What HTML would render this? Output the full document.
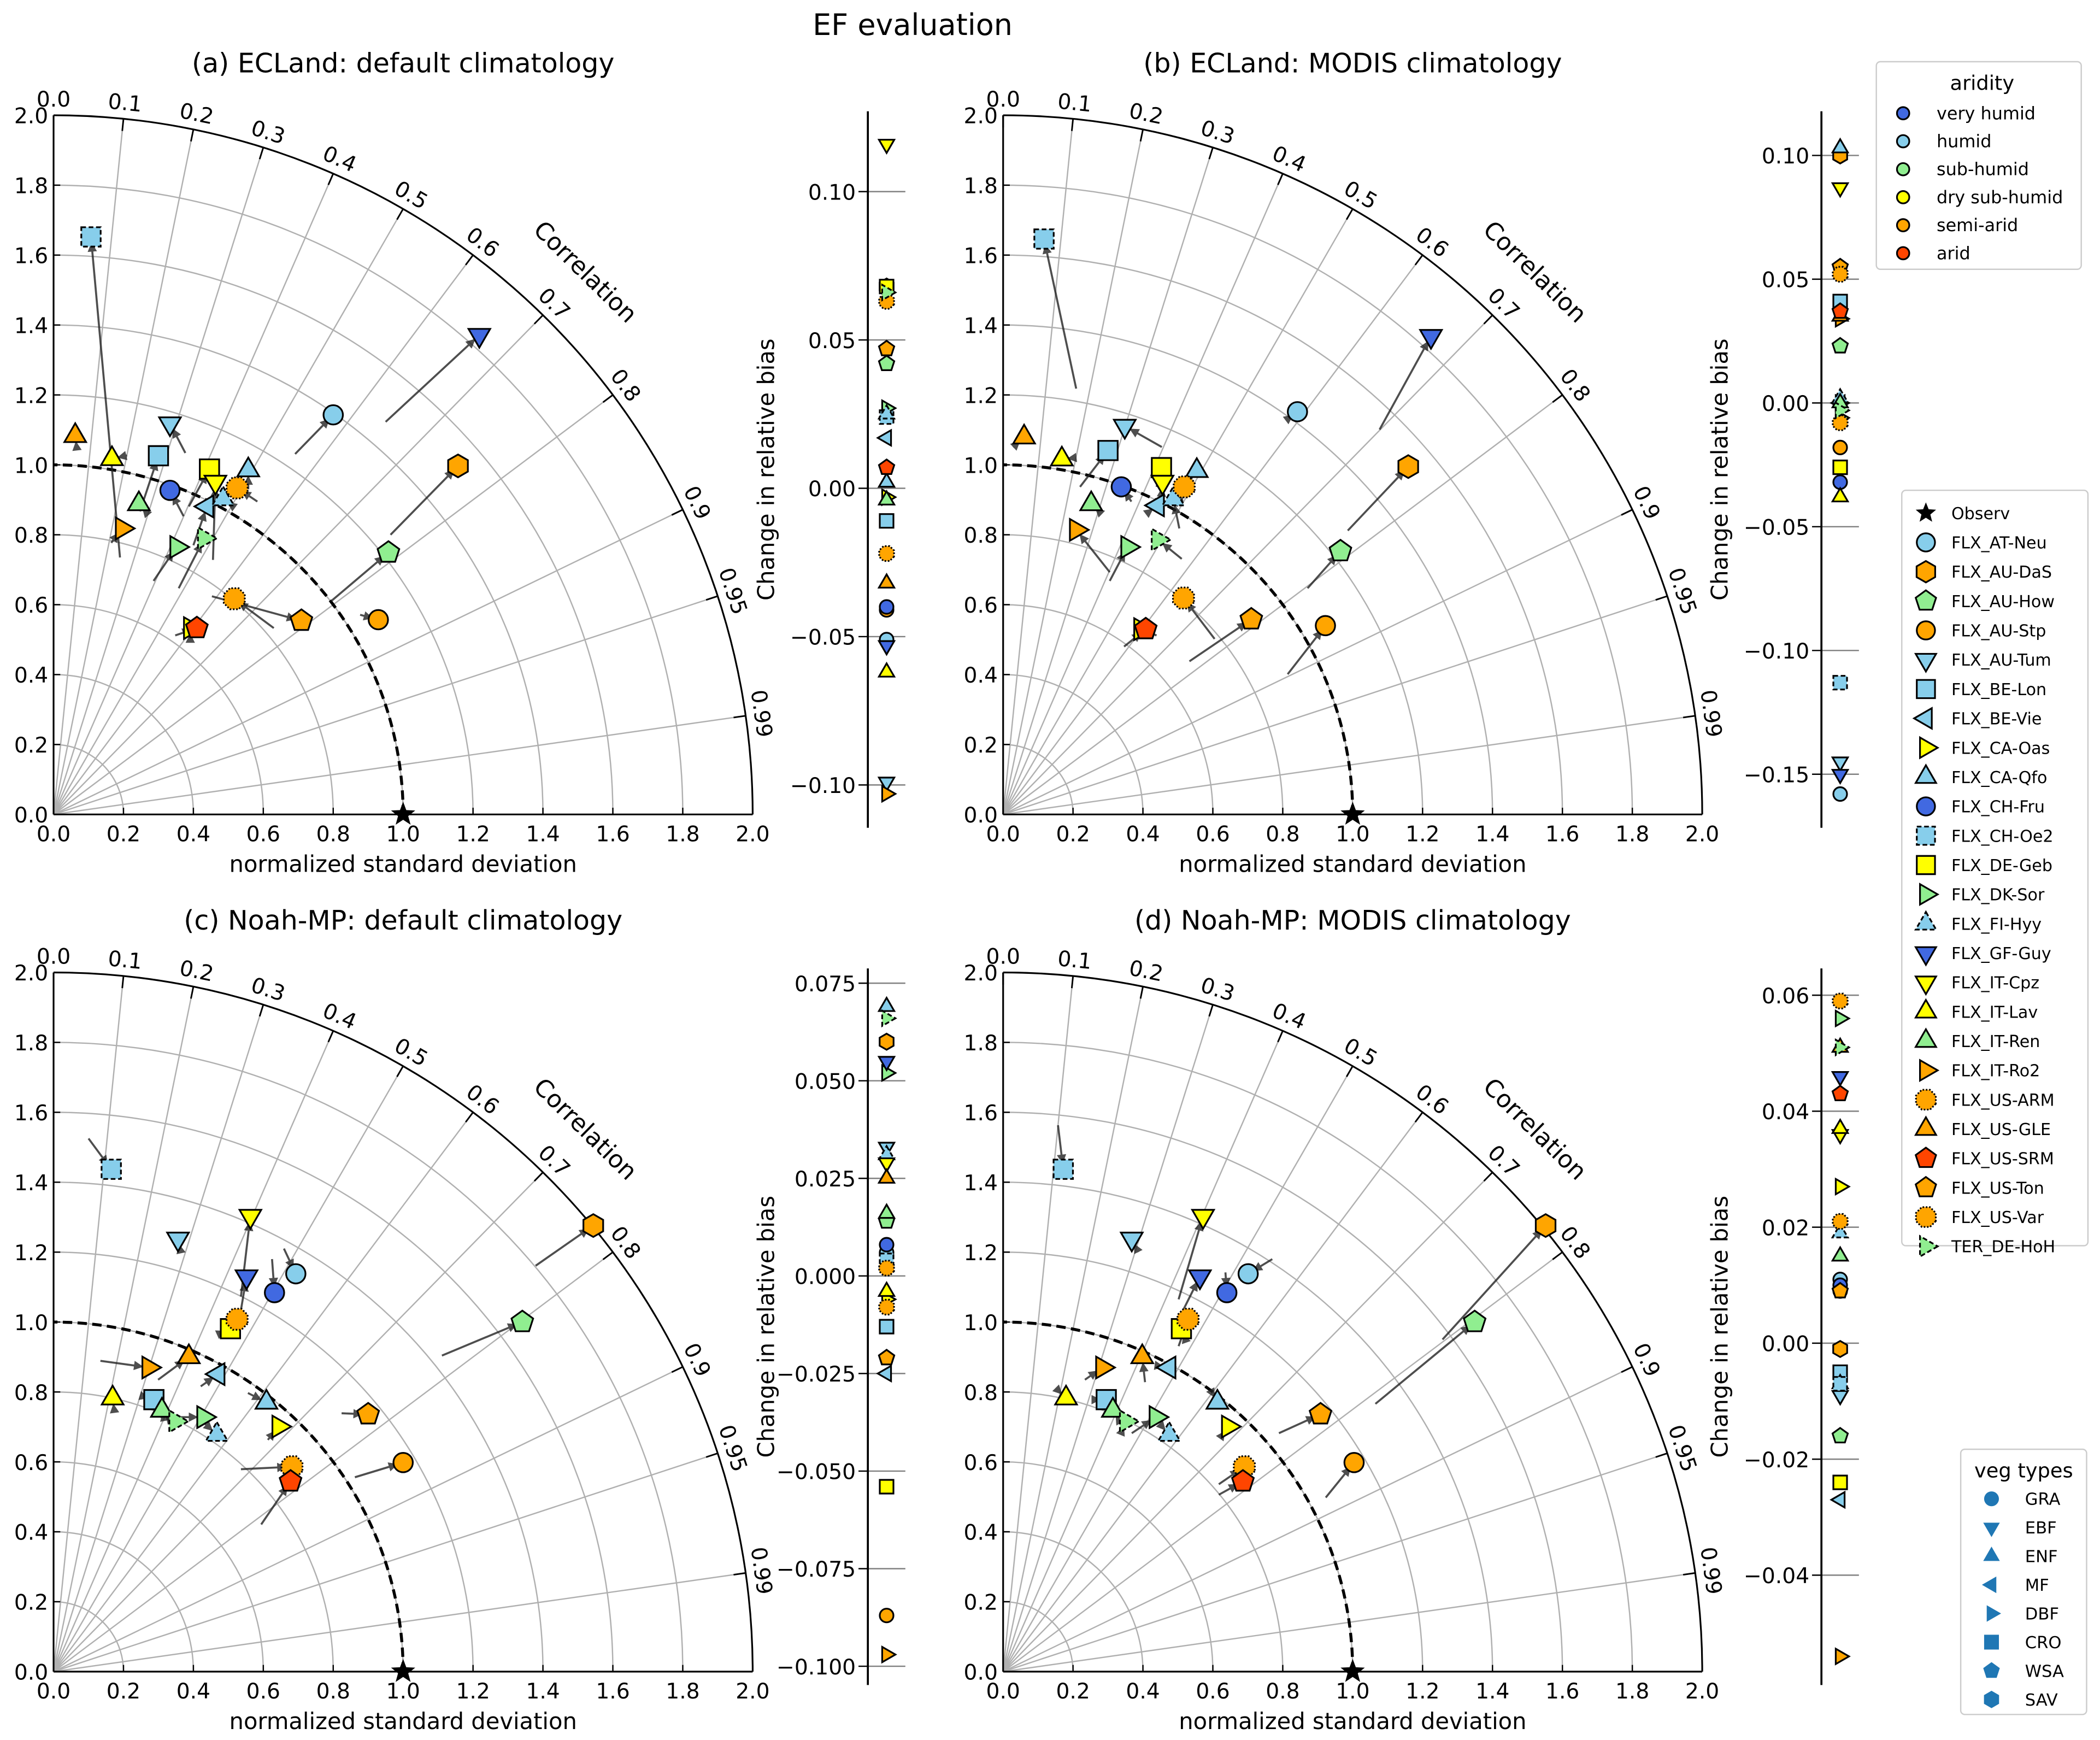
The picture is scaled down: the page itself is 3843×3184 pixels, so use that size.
<!DOCTYPE html>
<html><head><meta charset="utf-8"><style>
html,body{margin:0;padding:0;background:#fff;overflow:hidden;}
svg{display:block;font-family:"DejaVu Sans","Liberation Sans",sans-serif;}
</style></head><body>
<svg id="fig" width="3843" height="3184" viewBox="0 0 1568 1299" xmlns="http://www.w3.org/2000/svg">
<rect width="1568" height="1299" fill="#fff"/>
<text x="756" y="26" font-size="22" text-anchor="end">EF evaluation</text>
<g id="root"></g>
</svg>
<script>
// ---- data ----
const stations = ["FLX_AT-Neu","FLX_AU-DaS","FLX_AU-How","FLX_AU-Stp","FLX_AU-Tum","FLX_BE-Lon","FLX_BE-Vie","FLX_CA-Oas","FLX_CA-Qfo","FLX_CH-Fru","FLX_CH-Oe2","FLX_DE-Geb","FLX_DK-Sor","FLX_FI-Hyy","FLX_GF-Guy","FLX_IT-Cpz","FLX_IT-Lav","FLX_IT-Ren","FLX_IT-Ro2","FLX_US-ARM","FLX_US-GLE","FLX_US-SRM","FLX_US-Ton","FLX_US-Var","TER_DE-HoH"];
const shapes = ["o","h","p","o","v","s","<",">","^","o","s","s",">","^","v","v","^","^",">","8","^","p","p","8",">"];
const aridity = ["humid","semi-arid","sub-humid","semi-arid","humid","humid","humid","dry sub-humid","humid","very humid","humid","dry sub-humid","sub-humid","humid","very humid","dry sub-humid","dry sub-humid","sub-humid","semi-arid","semi-arid","semi-arid","arid","semi-arid","semi-arid","sub-humid"];
const edgeStyle = ["","","","","","","","","","","dash","","","dash","","","","","","dot","","","","dot","dash"];
const aridityNames = ["very humid","humid","sub-humid","dry sub-humid","semi-arid","arid"];
const aridityColors = ["#4169e1","#87ceeb","#90ee90","#ffff00","#ffa500","#ff4500"];
const vegNames = ["GRA","EBF","ENF","MF","DBF","CRO","WSA","SAV"];
const vegShapes = ["o","v","^","<",">","s","p","h"];
const corrTicks = [0,0.1,0.2,0.3,0.4,0.5,0.6,0.7,0.8,0.9,0.95,0.99];
const stdTicks = [0,0.2,0.4,0.6,0.8,1.0,1.2,1.4,1.6,1.8,2.0];

// panel (a)
const aX = [0.8,1.157,0.958,0.929,0.333,0.30,0.439,0.391,0.557,0.333,0.107,0.446,0.352,0.485,1.218,0.463,0.167,0.244,0.196,0.517,0.062,0.41,0.709,0.525,0.431];
const aY = [1.143,0.997,0.749,0.557,1.118,1.026,0.881,0.533,0.985,0.927,1.652,0.988,0.765,0.902,1.371,0.951,1.017,0.888,0.818,0.617,1.083,0.533,0.554,0.934,0.79];
const aTX = [0.691,0.964,0.794,0.877,0.377,0.247,0.4,0.391,0.557,0.372,0.19,0.387,0.286,0.514,0.95,0.456,0.21,0.268,0.165,0.63,0.066,0.348,0.453,0.583,0.358];
const aTY = [1.031,0.8,0.61,0.571,1.034,0.867,0.77,0.505,0.93,0.853,0.735,0.881,0.668,0.881,1.123,0.728,1.027,0.86,0.777,0.533,1.05,0.512,0.624,0.895,0.647];
const aBias = [-0.051,0.068,0.042,-0.041,-0.099,-0.011,0.017,-0.003,0.002,-0.040,0.024,0.068,0.027,0.025,-0.053,0.116,-0.062,-0.004,-0.103,-0.022,-0.032,0.007,0.047,0.063,0.066];
const aBiasTicks = [0.10,0.05,0.00,-0.05,-0.10];
const aBiasLabels = ["0.10","0.05","0.00","\u22120.05","\u22120.10"];
// panel (b)
const bX = [0.842,1.159,0.965,0.922,0.348,0.3,0.442,0.393,0.554,0.338,0.117,0.453,0.356,0.487,1.224,0.456,0.168,0.252,0.209,0.516,0.06,0.408,0.71,0.518,0.443];
const bY = [1.152,0.995,0.753,0.54,1.111,1.041,0.884,0.53,0.983,0.937,1.646,0.992,0.765,0.902,1.368,0.951,1.016,0.888,0.814,0.619,1.079,0.53,0.558,0.937,0.786];
const bTX = [0.814,0.986,0.871,0.814,0.454,0.22,0.41,0.439,0.528,0.367,0.209,0.439,0.305,0.504,1.077,0.453,0.202,0.281,0.305,0.605,0.029,0.346,0.533,0.497,0.511];
const bTY = [1.131,0.812,0.647,0.401,1.051,0.937,0.86,0.512,0.951,0.895,1.218,0.937,0.668,0.818,1.101,0.909,1.02,0.86,0.693,0.502,1.05,0.48,0.438,0.881,0.731];
const bBias = [-0.158,0.100,0.023,-0.018,-0.145,0.041,0.0,0.0,0.103,-0.032,-0.113,-0.026,-0.006,0.002,-0.150,0.087,-0.038,0.0,0.034,-0.008,0.035,0.037,0.055,0.052,-0.003];
const bBiasTicks = [0.10,0.05,0.00,-0.05,-0.10,-0.15];
const bBiasLabels = ["0.10","0.05","0.00","\u22120.05","\u22120.10","\u22120.15"];
// panel (c)
const cX = [0.693,1.544,1.341,1.0,0.356,0.287,0.471,0.644,0.609,0.632,0.165,0.506,0.429,0.467,0.552,0.563,0.169,0.31,0.272,0.682,0.387,0.678,0.9,0.525,0.349];
const cY = [1.138,1.276,1.0,0.598,1.238,0.778,0.851,0.701,0.77,1.084,1.437,0.981,0.728,0.678,1.13,1.303,0.782,0.747,0.87,0.586,0.9,0.544,0.736,1.008,0.716];
const cTX = [0.659,1.379,1.111,0.862,0.364,0.249,0.421,0.613,0.556,0.625,0.1,0.479,0.364,0.429,0.536,0.536,0.172,0.326,0.134,0.536,0.299,0.594,0.824,0.479,0.307];
const cTY = [1.21,1.161,0.904,0.556,1.2,0.789,0.816,0.663,0.797,1.18,1.525,0.969,0.728,0.713,1.034,1.073,0.759,0.728,0.889,0.579,0.835,0.421,0.739,0.969,0.728];
const cBias = [0.006,0.060,0.014,-0.087,0.033,-0.013,-0.025,-0.006,0.069,0.008,0.004,-0.054,0.052,0.031,0.055,0.029,-0.004,0.016,-0.097,-0.008,0.025,-0.021,-0.021,0.002,0.066];
const cBiasTicks = [0.075,0.050,0.025,0.000,-0.025,-0.050,-0.075,-0.100];
const cBiasLabels = ["0.075","0.050","0.025","0.000","\u22120.025","\u22120.050","\u22120.075","\u22120.100"];
// panel (d)
const dX = [0.701,1.552,1.349,1.004,0.368,0.295,0.475,0.644,0.613,0.64,0.172,0.51,0.437,0.475,0.563,0.572,0.18,0.314,0.284,0.69,0.398,0.686,0.908,0.529,0.352];
const dY = [1.138,1.276,1.0,0.598,1.238,0.778,0.87,0.701,0.77,1.084,1.437,0.981,0.728,0.678,1.13,1.303,0.782,0.747,0.87,0.586,0.9,0.544,0.736,1.008,0.716];
const dTX = [0.77,1.257,1.065,0.923,0.387,0.272,0.448,0.625,0.598,0.636,0.157,0.521,0.368,0.448,0.502,0.502,0.165,0.33,0.234,0.617,0.406,0.617,0.789,0.502,0.341];
const dTY = [1.18,0.95,0.766,0.498,1.2,0.778,0.874,0.674,0.797,1.142,1.563,0.95,0.682,0.709,1.008,1.065,0.797,0.72,0.835,0.536,0.828,0.506,0.682,0.931,0.69];
const dBias = [0.011,-0.001,-0.016,0.009,-0.009,-0.005,-0.027,0.027,-0.007,0.010,-0.007,-0.024,0.056,0.019,0.046,0.036,0.037,0.015,-0.054,0.059,0.051,0.043,0.009,0.021,0.051];
const dBiasTicks = [0.06,0.04,0.02,0.00,-0.02,-0.04];
const dBiasLabels = ["0.06","0.04","0.02","0.00","\u22120.02","\u22120.04"];

// ---- drawing ----
const NS = "http://www.w3.org/2000/svg";
const root = document.getElementById("root");
function mk(tag, attrs, parent){
  const e = document.createElementNS(NS, tag);
  for (const k in attrs) e.setAttribute(k, attrs[k]);
  (parent||root).appendChild(e);
  return e;
}
function colorOf(i){ return aridityColors[aridityNames.indexOf(aridity[i])]; }
function shapePath(sh, cx, cy, r){
  const pts = [];
  function poly(n, rot){ for(let k=0;k<n;k++){const a=rot+k*2*Math.PI/n; pts.push([cx+r*Math.cos(a), cy+r*Math.sin(a)]);} }
  if (sh==="s"){ const q=r*0.85; return `M${cx-q},${cy-q}H${cx+q}V${cy+q}H${cx-q}Z`; }
  if (sh==="^") poly(3,-Math.PI/2);
  else if (sh==="v") poly(3,Math.PI/2);
  else if (sh==="<") poly(3,Math.PI);
  else if (sh===">") poly(3,0);
  else if (sh==="p") poly(5,-Math.PI/2);
  else if (sh==="h") poly(6,-Math.PI/2);
  else if (sh==="8") poly(8,Math.PI/8);
  return "M"+pts.map(p=>p[0].toFixed(2)+","+p[1].toFixed(2)).join("L")+"Z";
}
function marker(g, sh, cx, cy, r, fill, style){
  let e;
  if (sh==="o") e = mk("circle",{cx:cx,cy:cy,r:r*0.85},g);
  else e = mk("path",{d:shapePath(sh,cx,cy,sh==="^"||sh==="v"||sh==="<"||sh===">"?r*1.1:r)},g);
  e.setAttribute("fill",fill); e.setAttribute("stroke","#000"); e.setAttribute("stroke-width","1.3");
  if (style==="dash") e.setAttribute("stroke-dasharray","3.5,2");
  if (style==="dot") e.setAttribute("stroke-dasharray","1.2,1.2");
  return e;
}

const panels = [
 {id:"a", title:"(a) ECLand: default climatology", ox:40, oy:608, X:aX,Y:aY,TX:aTX,TY:aTY,B:aBias,bt:aBiasTicks,bl:aBiasLabels, sx:648, y0:83, y1:618, tA:0.10, pA:143, tB:-0.10, pB:586},
 {id:"b", title:"(b) ECLand: MODIS climatology", ox:749, oy:608, X:bX,Y:bY,TX:bTX,TY:bTY,B:bBias,bt:bBiasTicks,bl:bBiasLabels, sx:1360, y0:83, y1:618, tA:0.10, pA:116, tB:-0.15, pB:578},
 {id:"c", title:"(c) Noah-MP: default climatology", ox:40, oy:1248, X:cX,Y:cY,TX:cTX,TY:cTY,B:cBias,bt:cBiasTicks,bl:cBiasLabels, sx:648, y0:723, y1:1258, tA:0.075, pA:734, tB:-0.1, pB:1244},
 {id:"d", title:"(d) Noah-MP: MODIS climatology", ox:749, oy:1248, X:dX,Y:dY,TX:dTX,TY:dTY,B:dBias,bt:dBiasTicks,bl:dBiasLabels, sx:1360, y0:723, y1:1258, tA:0.06, pA:743, tB:-0.04, pB:1176}
];
const S = 261; // px per std unit

panels.forEach(P=>{
  const g = mk("g",{});
  
  
  const px = v=>P.ox+v*S, py = v=>P.oy-v*S;
  const t = mk("text",{x:P.ox+261,y:P.oy-554,"font-size":"20","text-anchor":"middle"},g); t.textContent=P.title;
   
  stdTicks.slice(1,10).forEach(v=>{
    mk("path",{d:`M${px(v)},${P.oy}A${v*S},${v*S} 0 0 0 ${P.ox},${py(v)}`,fill:"none",stroke:"#b0b0b0","stroke-width":"1"},g);
  });
  corrTicks.forEach(c=>{
    const th=Math.acos(c);
    const ex=P.ox+2*S*Math.cos(th), ey=P.oy-2*S*Math.sin(th);
    if(c>0) mk("line",{x1:P.ox,y1:P.oy,x2:ex,y2:ey,stroke:"#b0b0b0","stroke-width":"1"},g);
    mk("line",{x1:ex,y1:ey,x2:P.ox+1.965*S*Math.cos(th),y2:P.oy-1.965*S*Math.sin(th),stroke:"#000","stroke-width":"1.2"},g);
    const lx=P.ox+2.025*S*Math.cos(th), ly=P.oy-2.025*S*Math.sin(th);
    const rot=90-th*180/Math.PI;
    const tx=mk("text",{x:0,y:0,"font-size":"16","text-anchor":"middle",transform:`translate(${lx},${ly}) rotate(${rot})`},g);
    tx.textContent=(c===0?"0.0":String(c));
     
  });
  const cth=Math.acos(0.70);
  const cl=mk("text",{"font-size":"18","text-anchor":"middle",transform:`translate(${P.ox+2.15*S*Math.cos(cth)},${P.oy-2.15*S*Math.sin(cth)}) rotate(${90-cth*180/Math.PI})`},g);
  cl.textContent="Correlation";  
  mk("path",{d:`M${px(2)},${P.oy}A${2*S},${2*S} 0 0 0 ${P.ox},${py(2)}`,fill:"none",stroke:"#000","stroke-width":"1.3"},g);
  mk("line",{x1:P.ox,y1:P.oy,x2:px(2),y2:P.oy,stroke:"#000","stroke-width":"1.3"},g);
  mk("line",{x1:P.ox,y1:P.oy,x2:P.ox,y2:py(2),stroke:"#000","stroke-width":"1.3"},g);
  stdTicks.forEach(v=>{
    mk("line",{x1:px(v),y1:P.oy,x2:px(v),y2:P.oy-5,stroke:"#000","stroke-width":"1"},g);
    mk("line",{x1:P.ox,y1:py(v),x2:P.ox+5,y2:py(v),stroke:"#000","stroke-width":"1"},g);
    const a=mk("text",{x:px(v),y:P.oy+20,"font-size":"16","text-anchor":"middle"},g); a.textContent=v.toFixed(1);
     
    const b=mk("text",{x:P.ox-4,y:py(v)+6,"font-size":"16","text-anchor":"end"},g); b.textContent=v.toFixed(1);
     
  });
  const xl=mk("text",{x:px(1),y:P.oy+43,"font-size":"17","text-anchor":"middle"},g); xl.textContent="normalized standard deviation";
   
  mk("path",{d:`M${px(1)},${P.oy}A${S},${S} 0 0 0 ${P.ox},${py(1)}`,fill:"none",stroke:"#000","stroke-width":"2.2","stroke-dasharray":"7,4"},g);
  P.X.forEach((v,i)=>{
    const x1=px(P.TX[i]), y1=py(P.TY[i]), x2=px(v), y2=py(P.Y[i]);
    const dx=x2-x1, dy=y2-y1, L=Math.hypot(dx,dy);
    if(L<2) return;
    const ux=dx/L, uy=dy/L;
    const ex=x2-ux*4, ey=y2-uy*4;
    const ar=mk("g",{opacity:"0.8"},g);
     
    mk("line",{x1:x1,y1:y1,x2:ex,y2:ey,stroke:"#222","stroke-width":"1.5"},ar);
    const hx=ex-ux*7, hy=ey-uy*7;
    mk("path",{d:`M${ex},${ey}L${hx-uy*3.5},${hy+ux*3.5}L${hx+uy*3.5},${hy-ux*3.5}Z`,fill:"#222"},ar);
  });
  P.X.forEach((v,i)=>{
    const m=marker(g,shapes[i],px(v),py(P.Y[i]),8.5,colorOf(i),edgeStyle[i]);
    
    
  });
  const st=[];for(let k=0;k<10;k++){const r=k%2?4:9.5,a=-Math.PI/2+k*Math.PI/5;st.push((px(1)+r*Math.cos(a)).toFixed(2)+","+(P.oy+r*Math.sin(a)).toFixed(2));}
  const star=mk("polygon",{points:st.join(" "),fill:"#000"},g);
   

  const sg=mk("g",{});
  
  
  const by = v=>P.pA+(v-P.tA)*(P.pB-P.pA)/(P.tB-P.tA);
  P.bt.forEach((v,k)=>{
    mk("line",{x1:P.sx,y1:by(v),x2:P.sx+28,y2:by(v),stroke:"#808080","stroke-width":"1"},sg);
    mk("line",{x1:P.sx-7,y1:by(v),x2:P.sx,y2:by(v),stroke:"#000","stroke-width":"1"},sg);
    const tl=mk("text",{x:P.sx-9,y:by(v)+6,"font-size":"16","text-anchor":"end"},sg); tl.textContent=P.bl[k];
     
  });
  mk("line",{x1:P.sx,y1:P.y0,x2:P.sx,y2:P.y1,stroke:"#000","stroke-width":"1.5"},sg);
  const yl=mk("text",{"font-size":"17","text-anchor":"middle",transform:`translate(${P.sx-70},${(P.y0+P.y1)/2}) rotate(-90)`},sg);
  yl.textContent="Change in relative bias";  
  P.B.forEach((v,i)=>{
    const m=marker(sg,shapes[i],P.sx+14,by(v),6,colorOf(i),edgeStyle[i]);
    
    
  });
});

(function(){
  const g=mk("g",{});
   
  mk("rect",{x:1401,y:46,width:153,height:155,rx:3,fill:"#fff",stroke:"#cccccc","stroke-width":"1"},g);
  const t=mk("text",{x:1480,y:67,"font-size":"15","text-anchor":"middle"},g); t.textContent="aridity";
  aridityNames.forEach((n,k)=>{
    const y=84.5+k*20.9;
    mk("circle",{cx:1421,cy:y,r:4.6,fill:aridityColors[k],stroke:"#000","stroke-width":"1.3"},g);
    const tx=mk("text",{x:1446,y:y+4.5,"font-size":"13"},g); tx.textContent=n;
     
  });
})();
(function(){
  const g=mk("g",{});
   
  mk("rect",{x:1420,y:366,width:139,height:564,rx:3,fill:"#fff",stroke:"#cccccc","stroke-width":"1"},g);
  const names=["Observ"].concat(stations);
  names.forEach((n,k)=>{
    const y=383+k*21.9;
    if(k===0){
      const st=[];for(let q=0;q<10;q++){const r=q%2?3.5:8,a=-Math.PI/2+q*Math.PI/5;st.push((1438+r*Math.cos(a)).toFixed(2)+","+(y+r*Math.sin(a)).toFixed(2));}
      mk("polygon",{points:st.join(" "),fill:"#000"},g);
    } else {
      const i=k-1;
      marker(g,shapes[i],1438,y,8,colorOf(i),edgeStyle[i]);
    }
    const tx=mk("text",{x:1457,y:y+4.5,"font-size":"12.3"},g); tx.textContent=n;
     
  });
})();
(function(){
  const g=mk("g",{});
   
  mk("rect",{x:1464,y:1082,width:94,height:198,rx:3,fill:"#fff",stroke:"#cccccc","stroke-width":"1"},g);
  const t=mk("text",{x:1511,y:1103,"font-size":"15","text-anchor":"middle"},g); t.textContent="veg types";
  vegNames.forEach((n,k)=>{
    const y=1119+k*21.4;
    const m=marker(g,vegShapes[k],1487,y,6.5,"#1f77b4","");
    m.setAttribute("stroke","none");
    const tx=mk("text",{x:1512,y:y+4.5,"font-size":"12.5"},g); tx.textContent=n;
     
  });
})();
</script>
</body></html>
